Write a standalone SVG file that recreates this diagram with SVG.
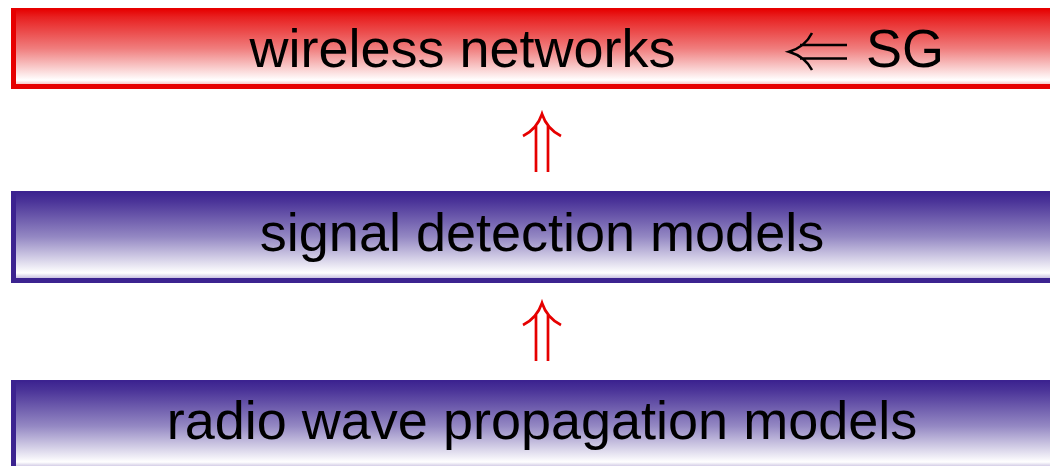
<svg xmlns="http://www.w3.org/2000/svg" width="1050" height="466" viewBox="0 0 1050 466">
  <defs>
    <linearGradient id="gRed" x1="0" y1="0" x2="0" y2="1">
      <stop offset="0" stop-color="#e60000"/>
      <stop offset="0.1" stop-color="#e82020"/>
      <stop offset="0.5" stop-color="#f07d7d"/>
      <stop offset="0.9" stop-color="#ffffff"/>
      <stop offset="0.95" stop-color="#f8c8c8"/>
      <stop offset="1" stop-color="#e60000"/>
    </linearGradient>
    <linearGradient id="gBlue" x1="0" y1="0" x2="0" y2="1">
      <stop offset="0" stop-color="#3c2390"/>
      <stop offset="0.1" stop-color="#4a3398"/>
      <stop offset="0.5" stop-color="#9488c3"/>
      <stop offset="0.9" stop-color="#ffffff"/>
      <stop offset="0.95" stop-color="#cfc8e4"/>
      <stop offset="1" stop-color="#3c2390"/>
    </linearGradient>
  </defs>
  <style>
    .lbl { font-family: "Liberation Sans", Arial, sans-serif; font-size: 54px; fill: #000; }
    .redbox .frame { fill: url(#gRed); stroke: #e60000; stroke-width: 2; }
    .redbox .bar { fill: #e60000; }
    .bluebox .frame { fill: url(#gBlue); stroke: #3c2390; stroke-width: 2; }
    .bluebox .bar { fill: #3c2390; }
    .uparrow { fill: none; stroke: #e60000; stroke-width: 2.7; stroke-linecap: butt; }
    .leftarrow { fill: none; stroke: #000; stroke-width: 2.5; }
  </style>

  <g id="node-wireless" class="redbox">
    <rect class="frame" x="12" y="9" width="1064" height="79"/>
    <rect class="bar" x="11" y="8" width="5" height="81"/>
    <rect class="bar" x="11" y="84" width="1066" height="5"/>
    <text class="lbl" x="462.5" y="67" text-anchor="middle">wireless networks</text>
    <path class="leftarrow" d="M812,33 Q805,47 789,51.7 Q805,56.5 812,70 M800,45 H847 M800,58.5 H847"/>
    <text class="lbl" x="866" y="67">SG</text>
  </g>

  <g id="node-signal" class="bluebox">
    <rect class="frame" x="12" y="192" width="1064" height="90"/>
    <rect class="bar" x="11" y="191" width="5" height="92"/>
    <rect class="bar" x="11" y="278" width="1066" height="5"/>
    <text class="lbl" x="542" y="251" text-anchor="middle">signal detection models</text>
  </g>

  <g id="node-radio" class="bluebox">
    <rect class="frame" x="12" y="381" width="1064" height="90"/>
    <rect class="bar" x="11" y="380" width="5" height="92"/>
    <rect class="bar" x="11" y="467" width="1066" height="5"/>
    <text class="lbl" x="542" y="439" text-anchor="middle">radio wave propagation models</text>
  </g>

  <g id="connectors">
    <path class="uparrow" d="M523,136 Q537,129 542,114 Q547,129 561,136 M536,126 V172 M548,126 V172"/>
    <path class="uparrow" d="M523,325 Q537,318 542,303 Q547,318 561,325 M536,315 V361 M548,315 V361"/>
  </g>
</svg>
